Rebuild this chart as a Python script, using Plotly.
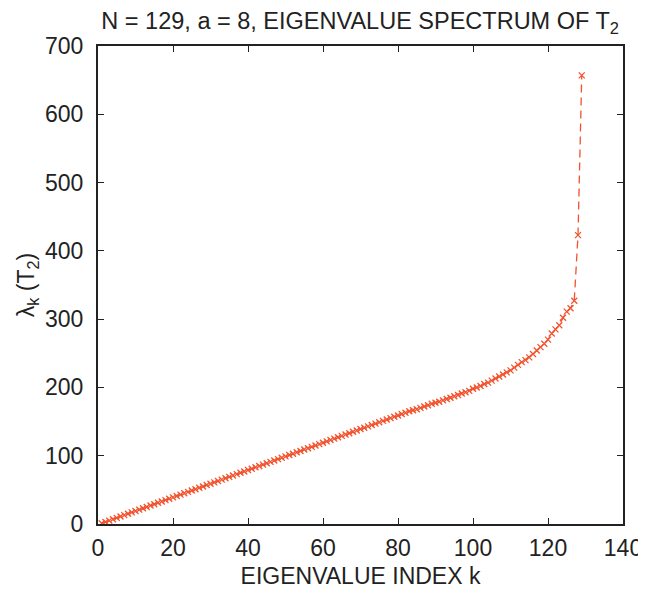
import plotly.graph_objects as go

k_index = list(range(1, 130))
eigenvalues = [
    1, 3, 5, 7, 9, 11, 13, 15, 17, 19,
    21, 23, 25, 27, 29, 31, 33, 35, 37, 39,
    41, 43, 45, 47, 49, 51, 53, 55, 57, 59,
    61, 63, 65, 67, 69, 71, 73, 75, 77, 79,
    81, 83, 85, 87, 89, 91, 93, 95, 97, 99,
    101, 103, 105, 107, 109, 111, 113, 115, 117, 119,
    121, 123, 125, 127, 129, 131, 133, 135, 137, 139,
    141, 143, 145, 147, 149, 151, 153, 155, 157, 159,
    161, 163, 165, 166.5, 168, 170, 172, 174, 176, 177.5,
    179, 181, 183, 185, 187, 189, 191, 193, 195, 198,
    200, 202, 205, 207, 210, 213, 216, 219, 222, 225,
    229, 233, 237, 240, 244, 249, 254, 259, 264, 270,
    279, 285, 291, 302, 311, 316, 327, 423, 657,
]
x_ticks = [0, 20, 40, 60, 80, 100, 120, 140]
y_ticks = [0, 100, 200, 300, 400, 500, 600, 700]

color = "rgb(242,82,45)"
font = "Liberation Sans, Arial, Helvetica, sans-serif"
ink = "#222222"

fig = go.Figure()
fig.add_trace(go.Scatter(
    x=k_index, y=eigenvalues, mode="lines+markers",
    line=dict(color=color, width=1.3, dash="8px,5px"),
    marker=dict(symbol="x-thin", size=6, line=dict(color=color, width=1.3), color=color),
    showlegend=False,
))

axis_common = dict(
    showgrid=False, zeroline=False, showline=True, linecolor=ink, linewidth=2,
    mirror="ticks", ticks="inside", ticklen=6, tickcolor=ink, tickwidth=1,
    tickfont=dict(family=font, size=23, color=ink), automargin=False,
)
# the page body adds an 8px offset, so the figure is 8px smaller and margins shifted
fig.update_layout(
    width=638, height=582,
    margin=dict(l=90, r=23, t=38, b=66),
    paper_bgcolor="white", plot_bgcolor="white",
    font=dict(family=font, color=ink),
    title=dict(text="N = 129, a = 8, EIGENVALUE SPECTRUM OF T<sub>2</sub>",
               x=0.552, xanchor="center", y=0.978, yanchor="middle",
               font=dict(family=font, size=23.5, color=ink)),
    xaxis=dict(range=[0, 140], tickvals=x_ticks, ticklabelstandoff=2,
               title=dict(text="EIGENVALUE INDEX k", font=dict(family=font, size=23, color=ink), standoff=8),
               **axis_common),
    yaxis=dict(range=[0, 700], tickvals=y_ticks, ticklabelstandoff=8,
               title=dict(text="λ<sub>k</sub> (T<sub>2</sub>)", font=dict(family=font, size=23, color=ink), standoff=4),
               **axis_common),
)
fig.write_html("out.html")
